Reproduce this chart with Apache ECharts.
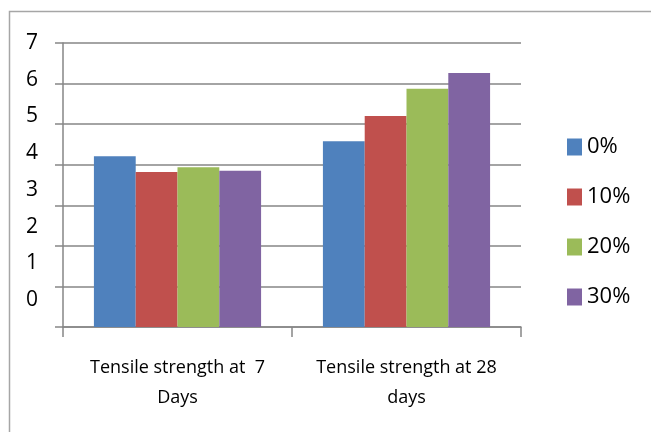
<!DOCTYPE html>
<html>
<head>
<meta charset="utf-8" />
<title>Tensile strength</title>
<script src="https://cdn.jsdelivr.net/npm/echarts@6/dist/echarts.min.js"></script>
<style>
  html, body { margin: 0; padding: 0; background: #fff; }
  #main { width: 651px; height: 432px; }
</style>
</head>
<body>
<div id="main"></div>
<script type="text/javascript">
    // data
    var categories = ['Tensile strength at  7\nDays', 'Tensile strength at 28\ndays'];
    var seriesNames = ['0%', '10%', '20%', '30%'];
    var seriesColors = ['#4F81BD', '#C0504D', '#9BBB59', '#8064A2'];
    var values0 = [4.21, 4.58];
    var values10 = [3.82, 5.20];
    var values20 = [3.94, 5.87];
    var values30 = [3.85, 6.26];
    var yTickLabels = [0, 1, 2, 3, 4, 5, 6, 7];

    var allValues = [values0, values10, values20, values30];
    var font = 'Open Sans';

    var myChart = echarts.init(document.getElementById('main'), null, { renderer: 'canvas' });

    var series = [];
    for (var i = 0; i < seriesNames.length; i++) {
        series.push({
            name: seriesNames[i],
            type: 'bar',
            data: allValues[i],
            itemStyle: { color: seriesColors[i] },
            barGap: '0%',
            barCategoryGap: '27%'
        });
    }

    var option = {
        animation: false,
        backgroundColor: '#ffffff',
        textStyle: { fontFamily: font },
        grid: { left: 63, right: 130, top: 43, bottom: 105 },
        legend: {
            orient: 'vertical',
            left: 562,
            top: 130,
            icon: 'rect',
            itemWidth: 15,
            itemHeight: 17,
            itemGap: 26,
            data: seriesNames,
            textStyle: { fontFamily: font, fontSize: 22, lineHeight: 24, color: '#000' }
        },
        xAxis: {
            type: 'category',
            data: categories,
            axisLine: { show: true, lineStyle: { color: '#868686', width: 1.5 } },
            axisTick: { show: true, length: 10, lineStyle: { color: '#868686', width: 1.5 } },
            axisLabel: {
                interval: 0,
                hideOverlap: false,
                color: '#000',
                fontSize: 18,
                lineHeight: 30,
                margin: 26,
                fontFamily: font
            }
        },
        yAxis: [
            {
                type: 'value',
                min: 0,
                max: 7,
                interval: 1,
                axisLine: { show: true, lineStyle: { color: '#868686', width: 1.5 } },
                axisTick: { show: true, length: 8, lineStyle: { color: '#868686', width: 1.5 } },
                splitLine: { show: true, lineStyle: { color: '#868686', width: 1.5 } },
                axisLabel: { show: false }
            },
            {
                // labels only, placed as in the picture
                type: 'value',
                position: 'left',
                min: -0.735,
                max: 7,
                axisLine: { show: false },
                axisTick: { show: false },
                splitLine: { show: false },
                axisLabel: {
                    show: true,
                    customValues: yTickLabels,
                    margin: 25,
                    color: '#000',
                    fontSize: 21,
                    fontFamily: font
                }
            }
        ],
        graphic: [
            {
                type: 'rect',
                shape: { x: 9.5, y: 11.5, width: 700, height: 500 },
                style: { fill: 'none', stroke: '#a6a6a6', lineWidth: 1.5 },
                silent: true
            }
        ],
        series: series
    };

    myChart.setOption(option);
</script>
</body>
</html>
